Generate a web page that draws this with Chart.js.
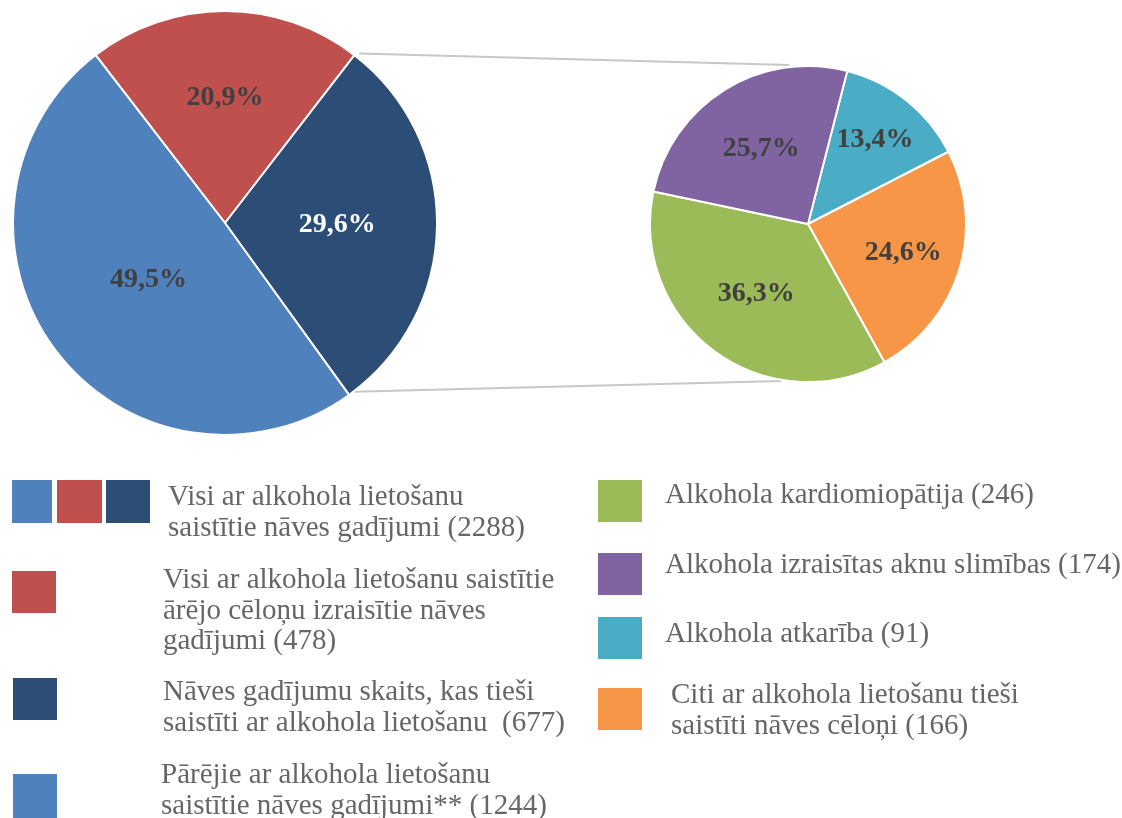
<!DOCTYPE html>
<html>
<head>
<meta charset="utf-8">
<script src="https://cdn.jsdelivr.net/npm/chart.js@4/dist/chart.umd.min.js"></script>
<style>
  body { margin: 0; background: #fff; width: 1122px; height: 818px; overflow: hidden; position: relative; font-family: "Liberation Serif", "DejaVu Serif", serif; }
  canvas { position: absolute; }
  #lines { left: 0; top: 0; z-index: 0; }
  #pieLeft { left: 12px; top: 10px; z-index: 1; }
  #pieRight { left: 649px; top: 65px; z-index: 1; }
  .sw { position: absolute; width: 44px; height: 42px; }
  .lg { position: absolute; font-size: 29px; line-height: 30.5px; color: #666; white-space: nowrap; }
</style>
</head>
<body>
<canvas id="lines" width="1122" height="818"></canvas>
<canvas id="pieLeft" width="426" height="426"></canvas>
<canvas id="pieRight" width="318" height="318"></canvas>

<div class="sw" style="left:12px;top:480px;width:40px;height:43px;background:#4f81bd"></div>
<div class="sw" style="left:57px;top:480px;width:45px;height:43px;background:#c0504d"></div>
<div class="sw" style="left:106px;top:480px;width:44px;height:43px;background:#2c4d75"></div>
<div class="lg" style="left:168px;top:480px">Visi ar alkohola lietošanu<br>saistītie nāves gadījumi (2288)</div>

<div class="sw" style="left:12px;top:571px;background:#c0504d"></div>
<div class="lg" style="left:163px;top:563px">Visi ar alkohola lietošanu saistītie<br>ārējo cēloņu izraisītie nāves<br>gadījumi (478)</div>

<div class="sw" style="left:13px;top:678px;background:#2c4d75"></div>
<div class="lg" style="left:163px;top:675px">Nāves gadījumu skaits, kas tieši<br>saistīti ar alkohola lietošanu&nbsp; (677)</div>

<div class="sw" style="left:13px;top:774px;height:50px;background:#4f81bd"></div>
<div class="lg" style="left:161px;top:758px">Pārējie ar alkohola lietošanu<br>saistītie nāves gadījumi** (1244)</div>

<div class="sw" style="left:598px;top:480px;background:#9bbb59"></div>
<div class="lg" style="left:665px;top:478px">Alkohola kardiomiopātija (246)</div>

<div class="sw" style="left:598px;top:553px;background:#8064a2"></div>
<div class="lg" style="left:665px;top:548px">Alkohola izraisītas aknu slimības (174)</div>

<div class="sw" style="left:598px;top:617px;background:#4bacc6"></div>
<div class="lg" style="left:665px;top:617px">Alkohola atkarība (91)</div>

<div class="sw" style="left:598px;top:688px;background:#f79646"></div>
<div class="lg" style="left:671px;top:678px">Citi ar alkohola lietošanu tieši<br>saistīti nāves cēloņi (166)</div>

<script>
// kreisā diagramma: visi ar alkoholu saistītie nāves gadījumi (%)
var leftLabels = ['Ārējie cēloņi', 'Tieši saistīti', 'Pārējie'];
var leftValues = [20.9, 29.6, 49.5];
var leftColors = ['#c0504d', '#2c4d75', '#4f81bd'];
var leftTextColors = ['#404040', '#ffffff', '#404040'];
var leftLabelPos = [0.59, 0.53, 0.45];

// labā diagramma: tieši saistītie nāves cēloņi (skaits)
var rightLabels = ['Alkohola atkarība', 'Citi', 'Alkohola kardiomiopātija', 'Aknu slimības'];
var rightValues = [91, 166, 246, 174];
var rightPercent = ['13,4%', '24,6%', '36,3%', '25,7%'];
var rightColors = ['#4bacc6', '#f79646', '#9bbb59', '#8064a2'];
var rightLabelPos = [0.68, 0.63, 0.55, 0.56];

var sliceLabels = {
    id: 'sliceLabels',
    afterDatasetsDraw: function(chart, args, opts) {
        var ctx = chart.ctx;
        var arcs = chart.getDatasetMeta(0).data;
        ctx.save();
        ctx.font = 'bold 28px "Liberation Serif"';
        ctx.textAlign = 'center';
        ctx.textBaseline = 'middle';
        arcs.forEach(function(arc, i) {
            var mid = (arc.startAngle + arc.endAngle) / 2;
            var r = arc.outerRadius * opts.pos[i];
            ctx.fillStyle = opts.colors[i];
            ctx.fillText(opts.texts[i], arc.x + Math.cos(mid) * r, arc.y + Math.sin(mid) * r);
        });
        ctx.restore();
    }
};

var leftChart = new Chart(document.getElementById('pieLeft'), {
    type: 'pie',
    data: {
        labels: leftLabels,
        datasets: [{
            data: leftValues,
            backgroundColor: leftColors,
            borderColor: '#ffffff',
            borderWidth: 2
        }]
    },
    options: {
        responsive: false,
        animation: false,
        rotation: -37.6,
        plugins: {
            legend: { display: false },
            tooltip: { enabled: false },
            sliceLabels: {
                texts: leftValues.map(function(v) { return v.toFixed(1).replace('.', ',') + '%'; }),
                colors: leftTextColors,
                pos: leftLabelPos
            }
        }
    },
    plugins: [sliceLabels]
});

var rightChart = new Chart(document.getElementById('pieRight'), {
    type: 'pie',
    data: {
        labels: rightLabels,
        datasets: [{
            data: rightValues,
            backgroundColor: rightColors,
            borderColor: '#ffffff',
            borderWidth: 2
        }]
    },
    options: {
        responsive: false,
        animation: false,
        rotation: 14.4,
        plugins: {
            legend: { display: false },
            tooltip: { enabled: false },
            sliceLabels: {
                texts: rightPercent,
                colors: ['#404040', '#404040', '#404040', '#404040'],
                pos: rightLabelPos
            }
        }
    },
    plugins: [sliceLabels]
});

// savienojošās līnijas starp diagrammām
var lc = document.getElementById('lines').getContext('2d');
var navy = leftChart.getDatasetMeta(0).data[1];
var lx = 12, ly = 10, rx = 649, ry = 65;
var rArc = rightChart.getDatasetMeta(0).data[0];
var p1 = { x: lx + navy.x + Math.cos(navy.startAngle) * (navy.outerRadius + 8), y: ly + navy.y + Math.sin(navy.startAngle) * (navy.outerRadius + 2) };
var p2 = { x: lx + navy.x + Math.cos(navy.endAngle) * (navy.outerRadius + 8), y: ly + navy.y + Math.sin(navy.endAngle) * (navy.outerRadius - 4) };
var q1 = { x: rx + rArc.x - rArc.outerRadius * 0.12, y: ry + rArc.y - rArc.outerRadius - 1 };
var q2 = { x: rx + rArc.x - rArc.outerRadius * 0.17, y: ry + rArc.y + rArc.outerRadius - 1 };
lc.strokeStyle = '#c8c8c8';
lc.lineWidth = 2;
lc.beginPath();
lc.moveTo(p1.x, p1.y); lc.lineTo(q1.x, q1.y);
lc.moveTo(p2.x, p2.y); lc.lineTo(q2.x, q2.y);
lc.stroke();
</script>
</body>
</html>
